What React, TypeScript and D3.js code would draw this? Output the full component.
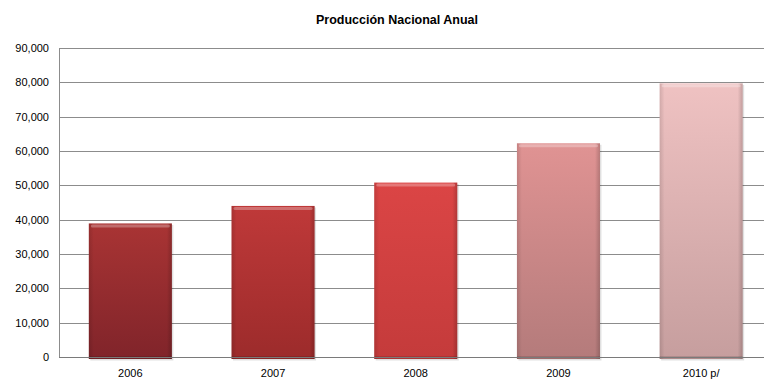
import React from "react";
import * as d3 from "d3";

const categories = ["2006", "2007", "2008", "2009", "2010 p/"];
const values = [38900, 44000, 50800, 62250, 79700];
const tickValues = [0, 10000, 20000, 30000, 40000, 50000, 60000, 70000, 80000, 90000];
const barTop = ["#a93434", "#bf3939", "#db4545", "#e09393", "#efc2c2"];
const barBottom = ["#80242a", "#9c2b2b", "#c43b3b", "#b47b7b", "#c69e9e"];
const title = "Producción Nacional Anual";

const W = 764;
const H = 381;
const margin = { left: 59, top: 48, right: 772.5, bottom: 357 };

export default function App() {
  const x = d3.scaleBand<string>().domain(categories).range([margin.left, margin.right]).paddingInner(0.418).paddingOuter(0.209);
  const y = d3.scaleLinear().domain([0, 90000]).range([margin.bottom, margin.top]);
  const fmt = d3.format(",");
  const font = "'Liberation Sans', Arial, sans-serif";
  const bw = x.bandwidth();
  return (
    <svg width={W} height={H} style={{ position: "absolute", left: 0, top: 0, background: "#fff" }}>
      <defs>
        {categories.map((c, i) => (
          <linearGradient key={c} id={`g${i}`} x1="0" y1="0" x2="0" y2="1">
            <stop offset="0" stopColor={barTop[i]} />
            <stop offset="1" stopColor={barBottom[i]} />
          </linearGradient>
        ))}
        <linearGradient id="side" x1="0" y1="0" x2="1" y2="0">
          <stop offset="0" stopColor="#000" stopOpacity={0.12} />
          <stop offset="0.06" stopColor="#000" stopOpacity={0} />
          <stop offset="0.94" stopColor="#000" stopOpacity={0} />
          <stop offset="1" stopColor="#000" stopOpacity={0.18} />
        </linearGradient>
      </defs>
      <text x={397} y={24} textAnchor="middle" fontFamily={font} fontSize={12.5} fontWeight="bold" fill="#000">
        {title}
      </text>
      {tickValues.map((t) => (
        <g key={t}>
          {t > 0 && (
            <line x1={margin.left} x2={W} y1={Math.round(y(t)) + 0.5} y2={Math.round(y(t)) + 0.5} stroke="#8c8c8c" strokeWidth={1} />
          )}
          <text x={49} y={y(t) + 4} textAnchor="end" fontFamily={font} fontSize={11} fill="#000">
            {fmt(t)}
          </text>
        </g>
      ))}
      <line x1={margin.left + 0.5} x2={margin.left + 0.5} y1={margin.top} y2={margin.bottom} stroke="#8c8c8c" />
      {categories.map((c, i) => {
        const x0 = x(c)!;
        const y0 = y(values[i]);
        const h = margin.bottom + 2 - y0;
        return (
          <g key={c}>
            <rect x={x0 + 1.5} y={y0 + 1.5} width={bw} height={h} fill="#000" opacity={0.12} />
            <rect x={x0} y={y0} width={bw} height={h} fill={`url(#g${i})`} />
            <rect x={x0} y={y0} width={bw} height={h} fill="url(#side)" />
            <rect x={x0 + 2} y={y0 + 1} width={bw - 4} height={3} fill="#fff" opacity={0.28} rx={1.5} />
            <rect x={x0} y={margin.bottom - 1} width={bw} height={3} fill="#000" opacity={0.12} />
          </g>
        );
      })}
      <line x1={margin.left} x2={W} y1={margin.bottom + 0.5} y2={margin.bottom + 0.5} stroke="#7a7a7a" />
      {categories.map((c) => (
        <text key={c} x={x(c)! + bw / 2} y={377} textAnchor="middle" fontFamily={font} fontSize={11} fill="#000">
          {c}
        </text>
      ))}
    </svg>
  );
}
